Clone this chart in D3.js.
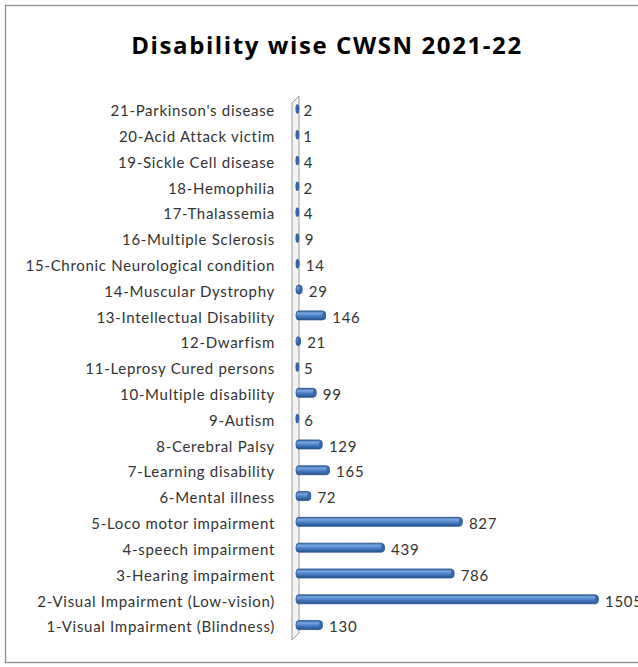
<!DOCTYPE html>
<html><head><meta charset="utf-8">
<script src="https://cdn.jsdelivr.net/npm/d3@7"></script>
<style>body{margin:0;background:#fff}svg{display:block}</style>
</head><body>
<script>
const categories = ["1-Visual Impairment (Blindness)","2-Visual Impairment (Low-vision)","3-Hearing impairment","4-speech impairment","5-Loco motor impairment","6-Mental illness","7-Learning disability","8-Cerebral Palsy","9-Autism","10-Multiple disability","11-Leprosy Cured persons","12-Dwarfism","13-Intellectual Disability","14-Muscular Dystrophy","15-Chronic Neurological condition","16-Multiple Sclerosis","17-Thalassemia","18-Hemophilia","19-Sickle Cell disease","20-Acid Attack victim","21-Parkinson's disease"];
const values = [130,1505,786,439,827,72,165,129,6,99,5,21,146,29,14,9,4,2,4,1,2];
const title = "Disability wise CWSN 2021-22";

const W = 638, H = 667;
const svg = d3.select("body").append("svg").attr("width", W).attr("height", H);
const defs = svg.append("defs");
const g = defs.append("linearGradient").attr("id","barg").attr("x1",0).attr("y1",0).attr("x2",0).attr("y2",1);
g.append("stop").attr("offset","0%").attr("stop-color","#2f5f9e");
g.append("stop").attr("offset","25%").attr("stop-color","#7aa6e0");
g.append("stop").attr("offset","55%").attr("stop-color","#4a7fc8");
g.append("stop").attr("offset","100%").attr("stop-color","#24508a");

// frame
svg.append("rect").attr("x",5.5).attr("y",5.5).attr("width",W+10).attr("height",657)
  .attr("fill","#fff").attr("stroke","#8f8f8f").attr("stroke-width",1.3);

svg.append("text").attr("x",327).attr("y",54).attr("text-anchor","middle")
  .attr("font-family","'Open Sans', sans-serif").attr("font-weight","bold").attr("font-size",24)
  .attr("letter-spacing",1.6).attr("fill","#000").text(title);

const data = categories.map((c,i)=>({c, v: values[i]}));
const y = d3.scaleBand().domain(categories.slice().reverse()).range([98, 640]);
const x = d3.scaleLinear().domain([0,1505]).range([296, 598]);

// wall
svg.append("path").attr("d", `M292,103 L299,96 L299,633 L292,640 Z`)
  .attr("fill","#f4f4f4").attr("stroke","#9a9a9a").attr("stroke-width",1);

// axis labels
const yAxis = d3.axisLeft(y).tickSize(0).tickPadding(0);
const ax = svg.append("g").attr("transform","translate(275,0)").call(yAxis);
ax.select(".domain").remove();
ax.selectAll("text").attr("font-family","Lato, sans-serif").attr("font-size",15)
  .attr("letter-spacing",0.7).attr("fill","#333").attr("dy","0.35em").attr("y",0);

const bh = 9;
const bars = svg.append("g").selectAll("g").data(data).join("g")
  .attr("transform", d=>`translate(0,${y(d.c)+y.bandwidth()/2-2})`);
bars.append("rect").attr("x", x(0)).attr("y", -bh/2)
  .attr("width", d=>Math.max(2.5, x(d.v)-x(0))).attr("height", bh)
  .attr("rx", 2.5).attr("ry", 4)
  .attr("fill","url(#barg)").attr("stroke","#2a5590").attr("stroke-width",0.8);
bars.append("ellipse").attr("cx", d=>Math.max(x(0)+1.5, x(d.v)-1)).attr("cy",0)
  .attr("rx",1.8).attr("ry",bh/2-0.5).attr("fill","#3565a8");

svg.append("g").selectAll("text").data(data).join("text")
  .attr("x", d=>x(d.v)+7).attr("y", d=>y(d.c)+y.bandwidth()/2)
  .attr("dy","0.35em").attr("font-family","Lato, sans-serif").attr("font-size",15)
  .attr("letter-spacing",0.7).attr("fill","#333").text(d=>d.v);
</script>
</body></html>
